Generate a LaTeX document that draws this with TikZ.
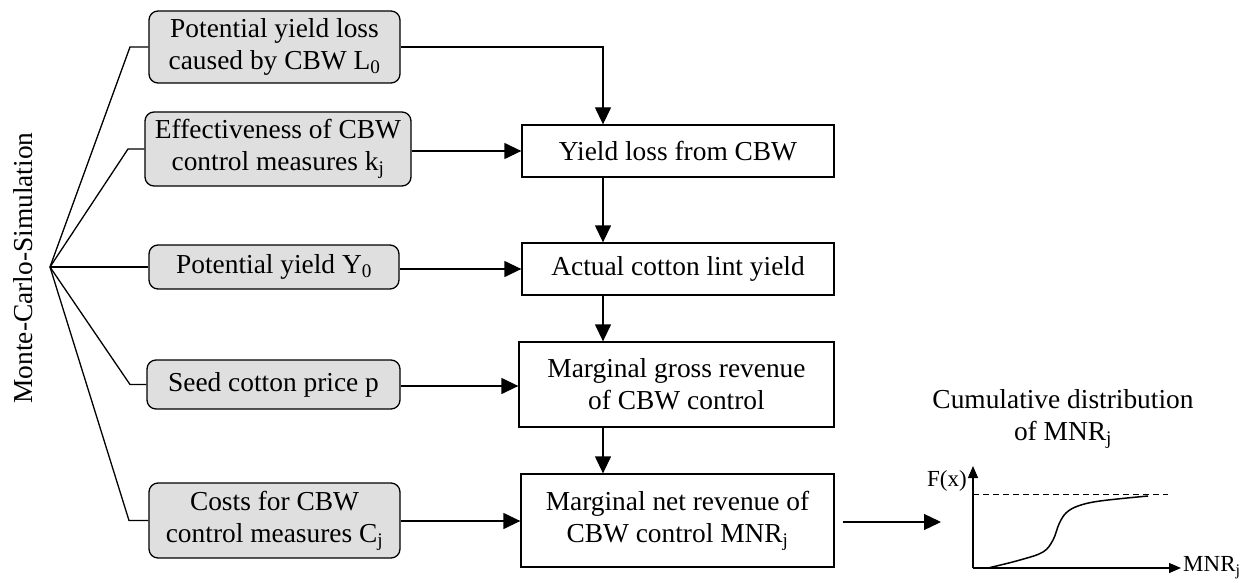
\documentclass[tikz,border=0pt]{standalone}
\usepackage{fontspec}
\setmainfont{Liberation Serif}
\usetikzlibrary{arrows.meta}
\begin{document}
\begin{tikzpicture}[x=1pt,y=-1pt,
  every node/.style={font=\fontsize{27.4}{32}\selectfont, inner sep=0pt, align=center},
  lbox/.style={draw, line width=1.3pt, rounded corners=9pt, fill=gray!25},
  rbox/.style={draw, line width=1.3pt, fill=white},
  conn/.style={line width=1.3pt},
  arr/.style={line width=1.3pt, -{Triangle[length=17pt,width=16pt]}},
  sarr/.style={line width=1.3pt, -{Triangle[length=12pt,width=10pt]}},
  small/.style={font=\fontsize{23}{27}\selectfont}]
\useasboundingbox (0,0) rectangle (1250,583);

% title of fan
\node[rotate=90] (mc) at (23,268) {Monte-Carlo-Simulation};

% input boxes
\node[lbox, minimum width=251pt, minimum height=72pt] (L1) at (274.5,47) {Potential yield loss\\caused by CBW L\textsubscript{0}};
\node[lbox, minimum width=266pt, minimum height=74pt] (L2) at (278,149) {Effectiveness of CBW\\control measures k\textsubscript{j}};
\node[lbox, minimum width=250pt, minimum height=44pt] (L3) at (274,267) {Potential yield Y\textsubscript{0}};
\node[lbox, minimum width=253pt, minimum height=49pt] (L4) at (273.5,384.5) {Seed cotton price p};
\node[lbox, minimum width=251pt, minimum height=75pt] (L5) at (274.5,520.5) {Costs for CBW\\control measures C\textsubscript{j}};

% computation boxes
\node[rbox, minimum width=312pt, minimum height=52pt] (A) at (678,151) {Yield loss from CBW};
\node[rbox, minimum width=312pt, minimum height=52pt] (B) at (678,269) {Actual cotton lint yield};
\node[rbox, minimum width=315pt, minimum height=85pt] (C) at (676.5,384.5) {Marginal gross revenue\\of CBW control};
\node[rbox, minimum width=313pt, minimum height=93pt] (D) at (677.5,520.5) {Marginal net revenue of\\CBW control MNR\textsubscript{j}};

% fan
\coordinate (O) at (50,267);
\coordinate (b1) at (130,47);
\coordinate (b2) at (128,149);
\coordinate (b4) at (130,384.5);
\coordinate (b5) at (129,520.5);
\draw[conn] (O) -- (b1) -- (L1.west);
\draw[conn] (O) -- (b2) -- (L2.west);
\draw[conn] (O) -- (L3.west);
\draw[conn] (O) -- (b4) -- (L4.west);
\draw[conn] (O) -- (b5) -- (L5.west);

% arrows
\coordinate (colx) at (603,0);
\draw[arr] (L1.east) -| (A.north -| colx);
\draw[arr] ([yshift=-2pt]L2.east) -- ([yshift=-2pt]L2.east -| A.west);
\draw[arr] ([yshift=-2pt]L3.east) -- ([yshift=-2pt]L3.east -| B.west);
\draw[arr] ([yshift=-1.5pt]L4.east) -- ([yshift=-1.5pt]L4.east -| C.west);
\draw[arr] ([yshift=-0.5pt]L5.east) -- ([yshift=-0.5pt]L5.east -| D.west);
\draw[arr] (A.south -| colx) -- (B.north -| colx);
\draw[arr] (B.south -| colx) -- (C.north -| colx);
\draw[arr] (C.south -| colx) -- (D.north -| colx);

% output
\coordinate (outend) at (941,522);
\draw[arr] ([xshift=8pt]D.east |- outend) -- (outend);

\node (cdt) at (1063,419) {Cumulative distribution\\of MNR\textsubscript{j}};

% small graph
\coordinate (G) at (973,568);
\coordinate (Gy) at (973,466);
\coordinate (Gx) at (1181,568);
\draw[sarr] (G) -- (Gy);
\draw[sarr] (G) -- (Gx);
\coordinate (d1) at (973,494);
\coordinate (d2) at (1168,494);
\draw[line width=1pt, dash pattern=on 6pt off 4pt] (d1) -- (d2);
\draw[line width=1.5pt] plot[smooth, tension=0.6] coordinates {(988,568) (1020,560) (1043,552) (1053,540) (1059,524) (1066,513) (1078,506) (1100,501) (1148,496)};
\node[small, anchor=east] (Fx) at (967,481) {F(x)};
\node[small, anchor=west] (mnr) at (1183,568) {MNR\textsubscript{j}};
\end{tikzpicture}
\end{document}
